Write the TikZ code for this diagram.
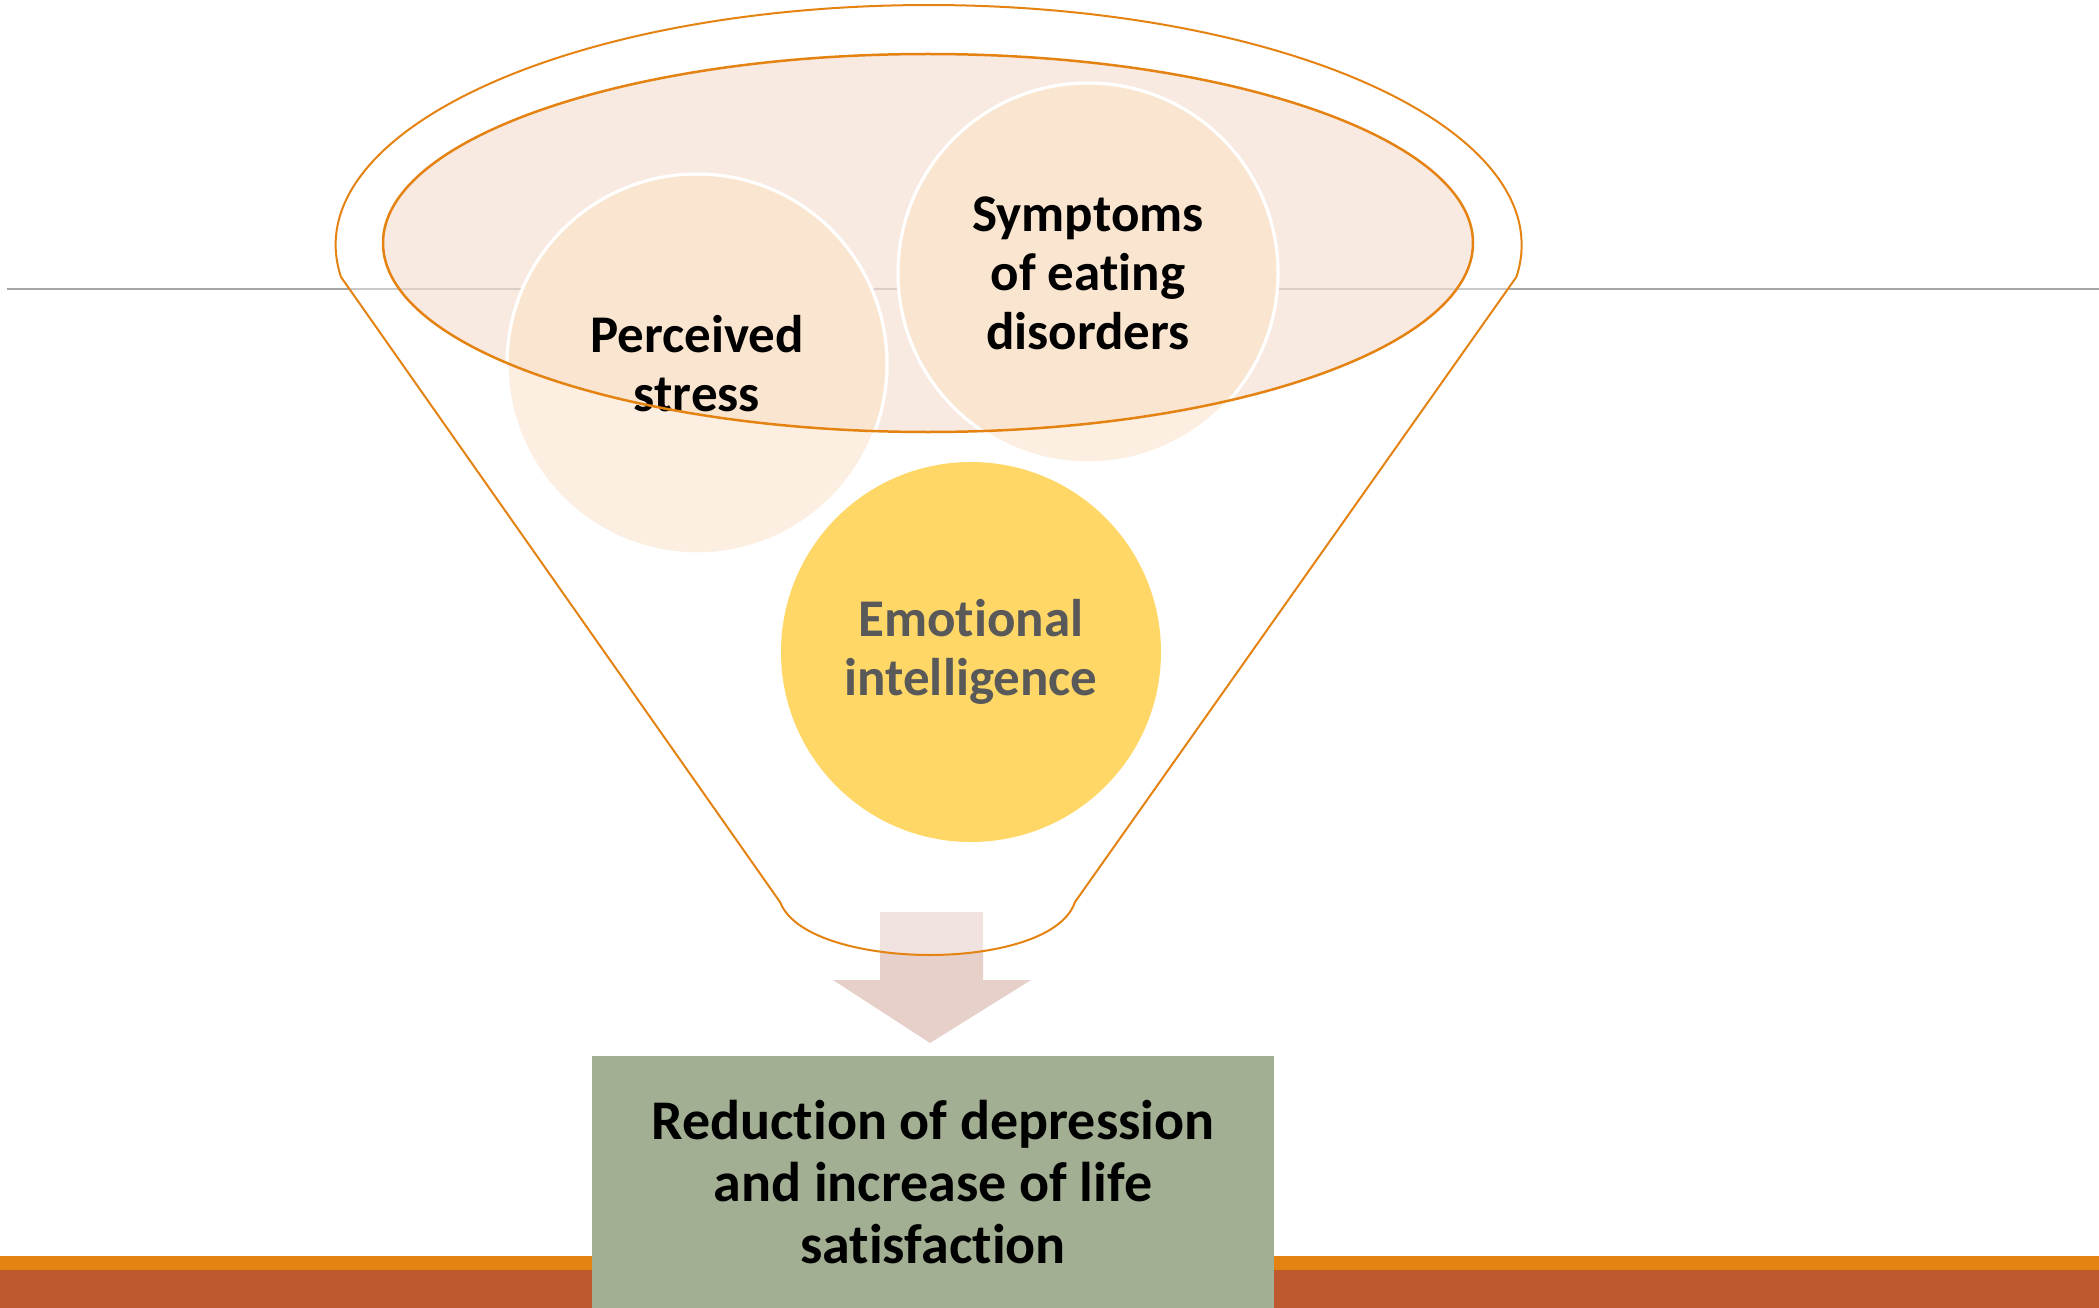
\documentclass[tikz,border=0pt]{standalone}
\usepackage{fontspec}
\setmainfont{Carlito}[RawFeature={-liga}]
\definecolor{funnelorange}{HTML}{E48312}
\definecolor{barrust}{HTML}{BE582D}
\definecolor{rimfill}{HTML}{F2D3C3}
\definecolor{bubblefill}{HTML}{FCEEE0}
\definecolor{bubbleinner}{HTML}{FAE6D0}
\definecolor{goldfill}{HTML}{FED766}
\definecolor{arrowpink}{HTML}{E7CFCA}
\definecolor{outcomegreen}{HTML}{A2AF93}
\definecolor{textgray}{HTML}{595959}
\definecolor{rulegray}{HTML}{A6A6A6}
\tikzset{
  funnelline/.style={draw=funnelorange, line width=2pt},
  bubble/.style={circle, minimum size=380pt, inner sep=0pt, draw=white, line width=3pt,
    align=center, font=\bfseries\fontsize{53}{59}\selectfont},
  outcome/.style={rectangle, fill=outcomegreen, minimum width=682pt, minimum height=252pt,
    inner sep=0pt, align=center, font=\bfseries\fontsize{56}{62}\selectfont}
}
\begin{document}
\begin{tikzpicture}[x=1pt,y=-1pt]
  \useasboundingbox (0,0) rectangle (2099,1308);

  \draw[rulegray, line width=2pt] (7,289) -- (2099,289);

  \fill[arrowpink] (880,912) -- (983,912) -- (983,980) -- (1031,980) -- (930,1043) -- (833,980) -- (880,980) -- cycle;

  \draw[funnelline, fill=white, fill opacity=0.4] (341,277) arc[start angle=172.34, end angle=367.66, x radius=593, y radius=240]
    -- (1075,902) .. controls (1062,940) and (990,955) .. (930,955) .. controls (870,955) and (795,940) .. (780,902) -- cycle;

  \fill[funnelorange] (0,1256) rectangle (2099,1270);
  \fill[barrust] (0,1270) rectangle (2099,1308);

  \node[outcome] (result) at (933,1182) {Reduction of depression\\and increase of life\\satisfaction};

  \fill[rimfill, opacity=0.5] (928,243) ellipse [x radius=545, y radius=189];

  \node[bubble, fill=bubblefill] (stress) at (697,364) {};
  \node[bubble, fill=bubblefill] (eating) at (1088,273) {};
  \begin{scope}
    \clip (928,243) ellipse [x radius=545, y radius=189];
    \fill[bubbleinner] (stress) circle [radius=188.5];
    \fill[bubbleinner] (eating) circle [radius=188.5];
  \end{scope}
  \node[bubble] at (stress) {Perceived\\stress};
  \node[bubble] at (eating) {Symptoms\\of eating\\disorders};
  \node[bubble, fill=goldfill, draw=none, text=textgray] (emotion) at (971,652) {Emotional\\intelligence};

  \draw[funnelline, line width=2.5pt] (928,243) ellipse [x radius=545, y radius=189];
\end{tikzpicture}
\end{document}
